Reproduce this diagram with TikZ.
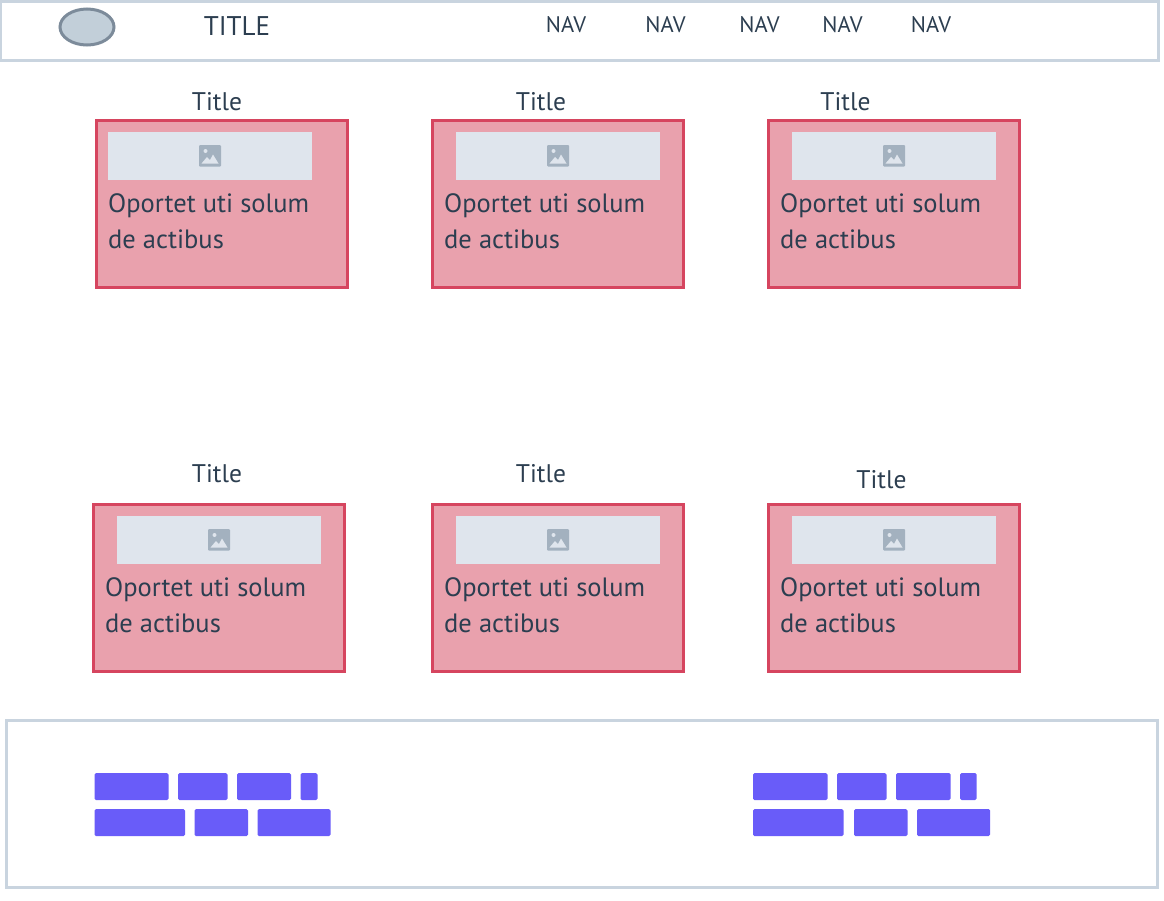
\documentclass[tikz,border=0pt]{standalone}
\usepackage{fontspec}
\setmainfont{PT Sans}
\usepackage{xcolor}
\usetikzlibrary{positioning}
\definecolor{inkdark}{HTML}{2C3E50}
\definecolor{framegrey}{HTML}{C9D4DF}
\definecolor{logofill}{HTML}{C2CFD9}
\definecolor{logoedge}{HTML}{7C8B9A}
\definecolor{cardfill}{HTML}{E9A1AD}
\definecolor{cardedge}{HTML}{D6455F}
\definecolor{imagefill}{HTML}{DFE5ED}
\definecolor{iconfill}{HTML}{A3B1BF}
\definecolor{barfill}{HTML}{695CF9}
\tikzset{
  frame/.style={draw=framegrey, line width=3pt, fill=white},
  cardbox/.style={draw=cardedge, line width=3pt, fill=cardfill},
  imagebox/.style={fill=imagefill},
  bar/.style={fill=barfill, rounded corners=1.5pt},
  navtext/.style={text=inkdark, font=\fontsize{22.5}{27}\selectfont, inner sep=0pt},
  titletext/.style={text=inkdark, font=\fontsize{25.5}{30}\selectfont, inner sep=0pt},
  cardtext/.style={text=inkdark, font=\fontsize{26.5}{36}\selectfont, inner sep=0pt, anchor=base west, align=left},
}
\begin{document}
\begin{tikzpicture}[x=1pt, y=-1pt]
    \useasboundingbox (0, 0) rectangle (1164, 900);

    % Header
    \draw[frame] (0.5, 1) rectangle (1158, 60);
    \draw[fill=logofill, draw=logoedge, line width=3pt] (87, 27) ellipse [x radius=27, y radius=18];
    \node[navtext, font=\fontsize{27}{32}\selectfont] (maintitle) at (237, 26) {TITLE};
    \node[navtext] (navone) at (566, 25) {NAV};
    \node[navtext] (navtwo) at (665.5, 25) {NAV};
    \node[navtext] (navthree) at (759.5, 25) {NAV};
    \node[navtext] (navfour) at (842.5, 25) {NAV};
    \node[navtext] (navfive) at (931, 25) {NAV};

    % Cards: name / box left / top / image left / text left / title x / title y
    \foreach \name/\bx/\by/\ix/\tx/\hx/\hy in {
        a/96/120/108/108/217/101.5,
        b/432/120/456/444/541/101.5,
        c/768/120/792/780/845.5/101.5,
        d/93/504/117/105/217/473.5,
        e/432/504/456/444/541/473.5,
        f/768/504/792/780/881.5/479.5} {
      \draw[cardbox] (\bx, \by) rectangle +(251.5, 167.5);
      \fill[imagebox] (\ix, \by+12) rectangle +(204, 48);
      % Image icon
      \fill[iconfill, rounded corners=1pt] (\ix+91, \by+25) rectangle +(22, 21.5);
      \fill[imagefill] (\ix+93.5, \by+43.5) -- (\ix+99, \by+37) -- (\ix+102, \by+40)
        -- (\ix+105, \by+34.5) -- (\ix+110.5, \by+43.5) -- cycle;
      \fill[imagefill] (\ix+97.5, \by+31) circle [radius=2];
      \node[titletext] (title\name) at (\hx, \hy) {Title};
      \node[cardtext] (text\name) at (\tx, \by+128) {Oportet uti solum\\de actibus};
    }

    % Footer
    \draw[frame] (6, 720) rectangle (1157.5, 887.5);

    % Footer bars
    \foreach \xl/\xr in {94.5/168.5, 178/227.5, 237/291, 300.5/317.5,
                         753/827.5, 837/886.5, 896/950.5, 960/976.5}
      \fill[bar] (\xl, 773) rectangle (\xr, 800);
    \foreach \xl/\xr in {94.5/185, 194.5/248, 257.5/330.5,
                         753/843.5, 854/907.5, 917/990}
      \fill[bar] (\xl, 809) rectangle (\xr, 836);
\end{tikzpicture}
\end{document}
